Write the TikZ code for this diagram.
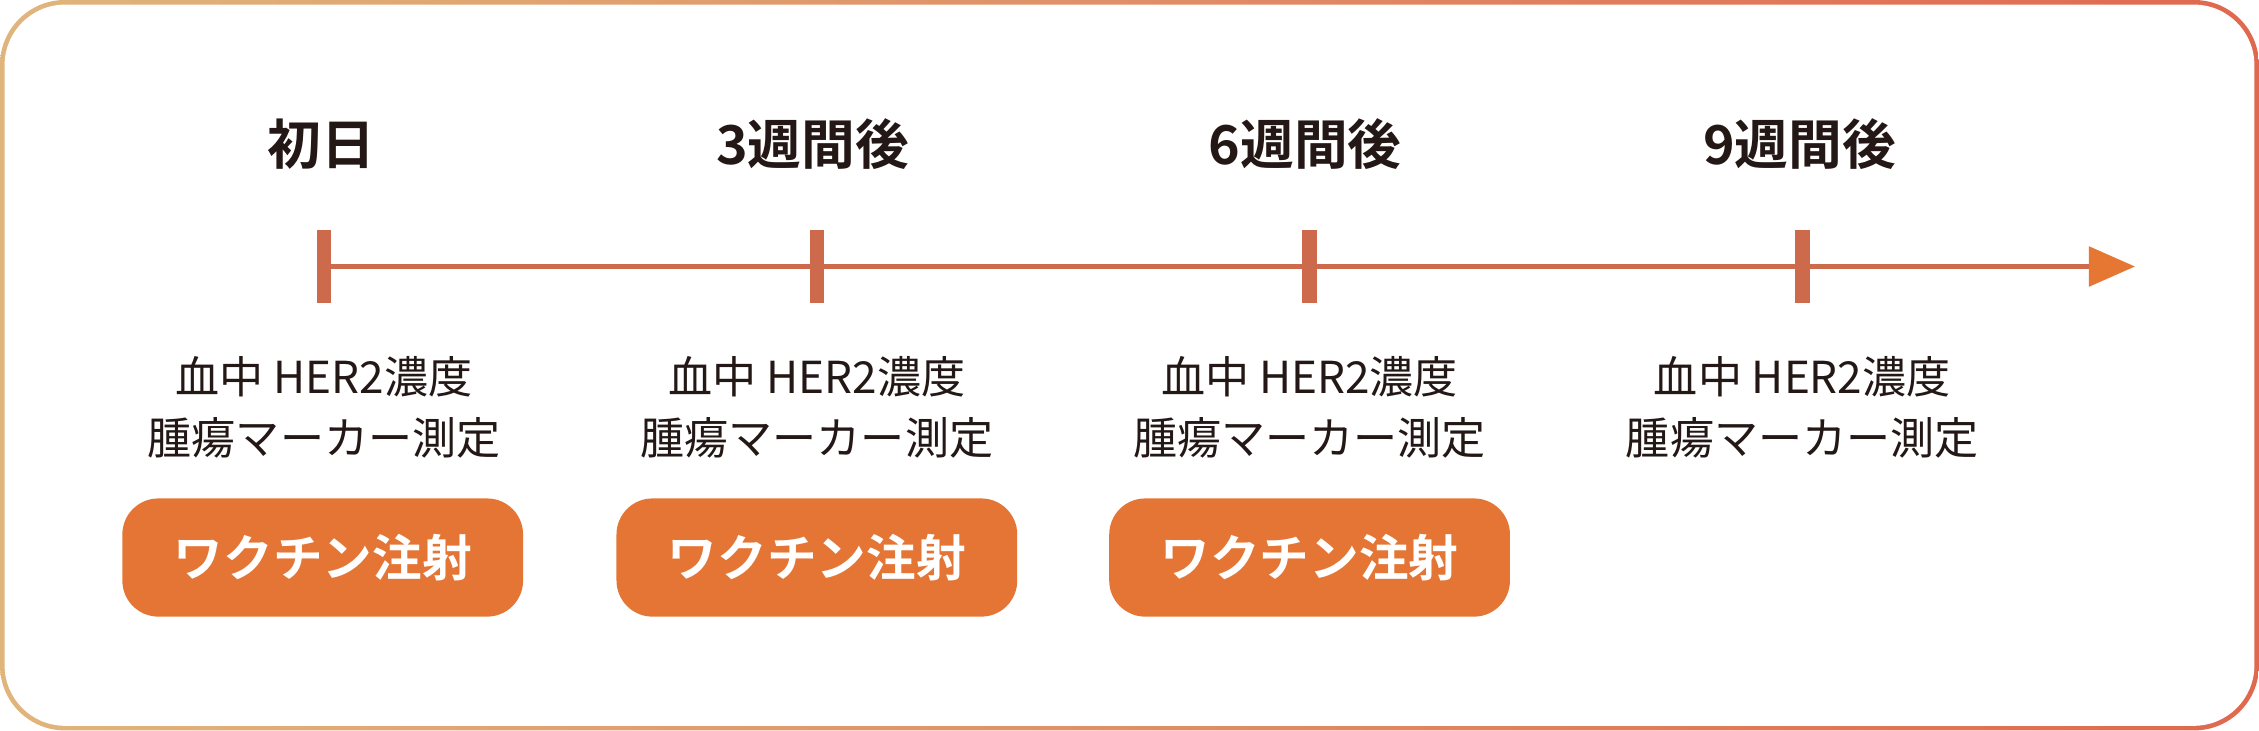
\documentclass[tikz,border=0pt]{standalone}
\usepackage{fontspec}
\setmainfont{Noto Sans CJK JP}[BoldFont={Noto Sans CJK JP Bold}]
\usetikzlibrary{arrows.meta}
\definecolor{frameL}{HTML}{E0B57C}
\definecolor{frameR}{HTML}{E0684F}
\definecolor{lineC}{HTML}{CD6A4B}
\definecolor{tipC}{HTML}{E57733}
\definecolor{btnC}{HTML}{E47534}
\definecolor{textC}{HTML}{231815}

\begin{document}
\begin{tikzpicture}[x=0.01cm,y=-0.01cm,
		head/.style={text=textC,font=\fontsize{10.6}{12}\selectfont\bfseries,inner sep=0pt},
		memo/.style={text=textC,font=\fontsize{8.7}{12}\selectfont,align=center,inner sep=0pt},
		btn/.style={fill=btnC,text=white,rounded corners=0.25cm,minimum width=2.78cm,minimum height=0.82cm,inner sep=0pt,font=\fontsize{9.8}{11}\selectfont\bfseries}]
		\useasboundingbox (0,0) rectangle (1568,507);
		% 枠の描画
		\shade[left color=frameL,right color=frameR,rounded corners=0.45cm] (0,0) rectangle (1568,507);
		\fill[white,rounded corners=0.42cm] (3.2,3.2) rectangle (1564.8,503.8);
		% 点の定義
		\coordinate (t0) at (225,185);
		\coordinate (t1) at (567,185);
		\coordinate (t2) at (909,185);
		\coordinate (t3) at (1251,185);
		\coordinate (tip) at (1482,185);
		% 線の描画
		\draw[lineC,line width=0.04cm,-{Triangle[length=0.32cm,width=0.27cm,color=tipC,fill=tipC]}] (t0)--(tip);
		\foreach \n in {0,...,3}
			\draw[lineC,line width=0.1cm] (t\n) ++(0,-25)--++(0,50);
		% 文字の描画
		\foreach \x/\n/\lab in {223/0/初日,564/1/3週間後,906/2/6週間後,1249/3/9週間後}
			\node[head] (h\n) at (\x,100) {\lab};
		\foreach \x/\n in {225/0,567/1,909/2,1251/3}
			\node[memo] (m\n) at (\x,283) {血中 HER2濃度\\腫瘍マーカー測定};
		% ボタンの描画
		\foreach \x/\n in {224/0,567/1,909/2}
			\node[btn] (b\n) at (\x,387) {ワクチン注射};
	\end{tikzpicture}
\end{document}
